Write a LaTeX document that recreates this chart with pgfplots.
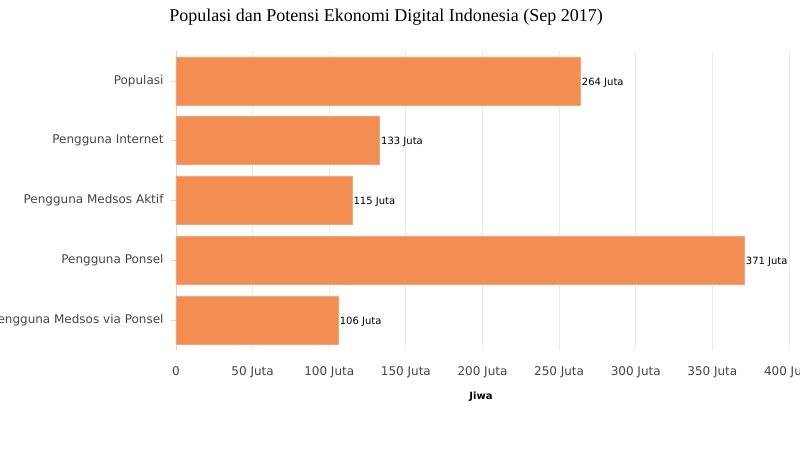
\documentclass[border=0pt]{standalone}
\usepackage{pgfplots}
\pgfplotsset{compat=1.18}
\usepackage{fontspec}
\setmainfont{DejaVu Sans}
\newfontfamily\titlefont{Liberation Serif}
\definecolor{barfill}{RGB}{244,141,82}
\definecolor{baredge}{RGB}{247,165,118}
\definecolor{gridc}{RGB}{235,235,235}
\definecolor{axc}{RGB}{215,215,215}
\definecolor{txt}{RGB}{68,68,68}
\begin{document}
\begin{tikzpicture}[x=1pt,y=1pt]
\useasboundingbox (0,0) rectangle (800,450);
\begin{axis}[
  at={(176pt,100pt)}, anchor=south west,
  scale only axis, width=624pt, height=299pt,
  xmin=0, xmax=407.2, ymin=-0.5, ymax=4.5, y dir=reverse,
  xbar, bar width=48pt,
  separate axis lines,
  axis x line*=bottom, axis y line*=left,
  x axis line style={draw=none},
  y axis line style={draw=axc, line width=0.8pt},
  xmajorgrids, grid style={draw=gridc, line width=0.8pt},
  xtick={0,50,100,150,200,250,300,350,400},
  xticklabels={0,50 Juta,100 Juta,150 Juta,200 Juta,250 Juta,300 Juta,350 Juta,400 Juta},
  ytick={0,1,2,3,4},
  yticklabels={Populasi,Pengguna Internet,Pengguna Medsos Aktif,Pengguna Ponsel\ ,Pengguna Medsos via Ponsel},
  xtick style={draw=none},
  ytick style={draw=axc, line width=0.8pt},
  tick align=outside, major tick length=5pt,
  ticklabel style={font=\fontsize{12pt}{14pt}\selectfont, text=txt},
  xticklabel style={anchor=north, yshift=-8pt},
  yticklabel style={anchor=east, xshift=-4pt},
  /pgf/number format/assume math mode=true,
  nodes near coords={\pgfmathprintnumber{\pgfplotspointmeta} Juta},
  point meta=x,
  nodes near coords style={anchor=west, inner sep=1pt, yshift=-1.5pt, font=\fontsize{10pt}{12pt}\selectfont, text=black},
]
\addplot[fill=barfill, draw=baredge, line width=0.8pt] coordinates {
  (264,0) (133,1) (115,2) (371,3) (106,4)
};
\end{axis}
\node[anchor=base, font=\titlefont\fontsize{18pt}{21pt}\selectfont, text=black] at (386,428) {Populasi dan Potensi Ekonomi Digital Indonesia (Sep 2017)};
\node[anchor=base, font=\bfseries\fontsize{10pt}{12pt}\selectfont, text=black] at (481,51) {Jiwa};
\end{tikzpicture}
\end{document}
